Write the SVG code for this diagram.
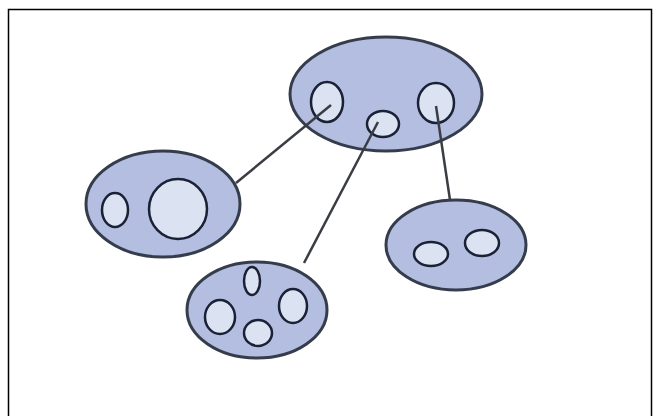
<svg xmlns="http://www.w3.org/2000/svg" width="659" height="416" viewBox="0 0 659 416">
<style>
.outer{fill:#b3bee0;stroke:#353d4c;stroke-width:3}
.inner{fill:#dbe2f2;stroke:#1a2135;stroke-width:2.5}
.conn{stroke:#3a3e44;stroke-width:2.5;fill:none}
</style>
<rect x="0" y="0" width="659" height="416" fill="#ffffff"/>
<path d="M8.5 416 V9.5 H651.5 V416" fill="none" stroke="#000" stroke-width="1.5"/>
<g id="n-main">
<ellipse class="outer" cx="386" cy="94" rx="96" ry="57"/>
<ellipse class="inner" cx="327" cy="102" rx="16" ry="20"/>
<ellipse class="inner" cx="383" cy="124" rx="16" ry="13"/>
<ellipse class="inner" cx="436" cy="103" rx="18" ry="20"/>
</g>
<g id="n-left">
<ellipse class="outer" cx="163" cy="204" rx="77" ry="53"/>
<ellipse class="inner" cx="115" cy="210" rx="13" ry="17"/>
<ellipse class="inner" cx="178" cy="209" rx="29" ry="30"/>
</g>
<g id="n-bottom">
<ellipse class="outer" cx="257" cy="310" rx="70" ry="48"/>
<ellipse class="inner" cx="252" cy="281" rx="8" ry="14"/>
<ellipse class="inner" cx="220" cy="317" rx="15" ry="17"/>
<ellipse class="inner" cx="293" cy="306" rx="14" ry="17"/>
<ellipse class="inner" cx="258" cy="333" rx="14" ry="13"/>
</g>
<g id="n-right">
<ellipse class="outer" cx="456" cy="245" rx="70" ry="45"/>
<ellipse class="inner" cx="431" cy="254" rx="17" ry="12"/>
<ellipse class="inner" cx="482" cy="243" rx="17" ry="13"/>
</g>
<g id="connectors">
<line class="conn" x1="331" y1="105" x2="236" y2="183"/>
<line class="conn" x1="378" y1="122" x2="304" y2="263"/>
<line class="conn" x1="436" y1="106" x2="450" y2="200"/>
</g>
</svg>
